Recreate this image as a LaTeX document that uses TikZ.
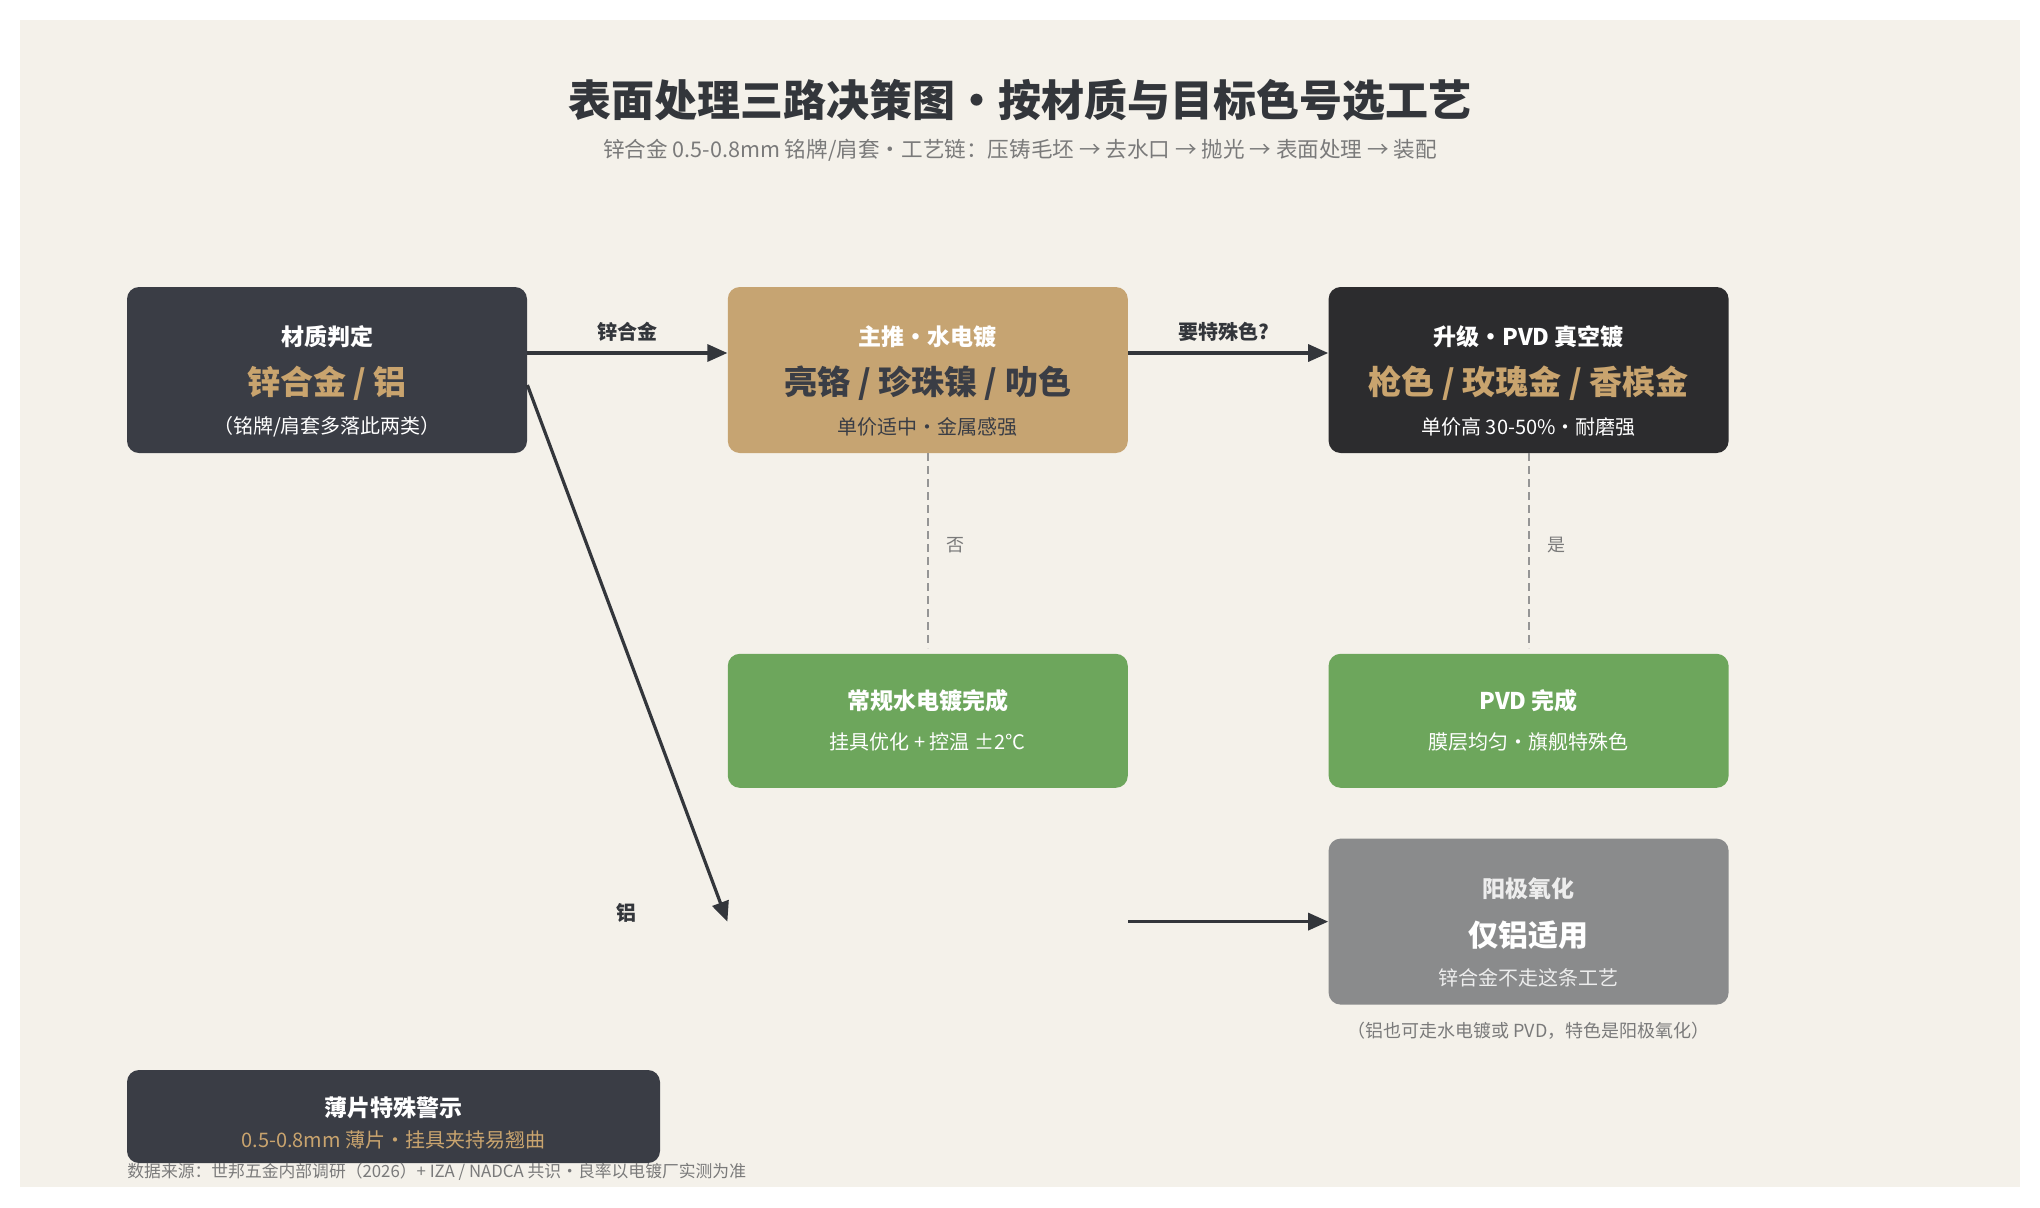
\documentclass[tikz,border=0pt]{standalone}
\usepackage{fontspec}
\setmainfont{Noto Sans CJK SC}
\usepackage{tikz}
\usetikzlibrary{arrows.meta, positioning}

\definecolor{paper}{HTML}{F4F1EA}
\definecolor{slate}{HTML}{3A3D45}
\definecolor{onyx}{HTML}{2C2C2E}
\definecolor{tan}{HTML}{C6A472}
\definecolor{gold}{HTML}{C9A46E}
\definecolor{leaf}{HTML}{6DA65C}
\definecolor{ash}{HTML}{8A8B8C}
\definecolor{ink}{HTML}{33363B}
\definecolor{mute}{HTML}{7A7A7A}
\definecolor{soft}{HTML}{EDEDED}

\begin{document}
\begin{tikzpicture}[x=0.5pt, y=-0.5pt]
    % Default looks for boxes, texts and arrows
    \tikzstyle{card}=[rounded corners=6pt, minimum width=200pt, minimum height=83pt, inner sep=0pt];
    \tikzstyle{done}=[card, fill=leaf, minimum height=67pt];
    \tikzstyle{head}=[inner sep=0pt, text=white, font=\bfseries\fontsize{11.5}{14}\selectfont];
    \tikzstyle{big}=[inner sep=0pt, font=\bfseries\fontsize{16.5}{20}\selectfont];
    \tikzstyle{sub}=[inner sep=0pt, font=\fontsize{10}{12}\selectfont];
    \tikzstyle{lbl}=[inner sep=0pt, text=ink, font=\bfseries\fontsize{10}{12}\selectfont];
    \tikzstyle{yesno}=[inner sep=0pt, text=mute, font=\fontsize{9}{11}\selectfont];
    \tikzstyle{flow}=[draw=ink, line width=1.6pt, -{Triangle[length=10pt, width=8.5pt]}];
    \tikzstyle{branch}=[draw=mute!80, line width=1pt, dash pattern=on 4pt off 2.5pt];

    \useasboundingbox (0,0) rectangle (2040,1207);
    \fill[white] (0,0) rectangle (2040,1207);
    \fill[paper] (20,20) rectangle (2020,1187);

    % Title
    \node[inner sep=0pt, text=ink, font=\bfseries\fontsize{21.5}{26}\selectfont] (title) at (1020,100)
        {表面处理三路决策图·按材质与目标色号选工艺};
    \node[inner sep=0pt, text=mute, font=\fontsize{10.8}{13}\selectfont] (subtitle) at (1020,150)
        {锌合金 0.5-0.8mm 铭牌/肩套·工艺链：压铸毛坯 → 去水口 → 抛光 → 表面处理 → 装配};

    % Define and draw the boxes
    \node[card, fill=slate] (mat) at (327,370) {};
    \node[card, fill=tan, right=100pt of mat] (plate) {};
    \node[card, fill=onyx, right=100pt of plate] (pvd) {};
    \node[done, below=100pt of plate] (platedone) {};
    \node[done, below=100pt of pvd] (pvddone) {};
    \node[card, below=25pt of platedone] (alhub) {};
    \node[card, fill=ash, below=25pt of pvddone] (anod) {};
    \node[card, fill=slate, minimum width=266.5pt, minimum height=46.5pt] (warn) at (393.5,1116.5) {};

    % Texts in the boxes
    \node[head] (mat-h) at ([yshift=16.5pt]mat.center) {材质判定};
    \node[big, text=gold] (mat-b) at ([yshift=-6.5pt]mat.center) {锌合金 / 铝};
    \node[sub, text=white] (mat-s) at ([yshift=-28.5pt]mat.center) {（铭牌/肩套多落此两类）};

    \node[head] (plate-h) at ([yshift=16.5pt]plate.center) {主推·水电镀};
    \node[big, text=slate] (plate-b) at ([yshift=-6.5pt]plate.center) {亮铬 / 珍珠镍 / 叻色};
    \node[sub, text=slate] (plate-s) at ([yshift=-28.5pt]plate.center) {单价适中·金属感强};

    \node[head] (pvd-h) at ([yshift=16.5pt]pvd.center) {升级·PVD 真空镀};
    \node[big, text=gold] (pvd-b) at ([yshift=-6.5pt]pvd.center) {枪色 / 玫瑰金 / 香槟金};
    \node[sub, text=white] (pvd-s) at ([yshift=-28.5pt]pvd.center) {单价高 30-50\%·耐磨强};

    \node[head] (platedone-h) at ([yshift=10pt]platedone.center) {常规水电镀完成};
    \node[sub, text=white] (platedone-s) at ([yshift=-10.5pt]platedone.center) {挂具优化 + 控温 ±2°C};

    \node[head] (pvddone-h) at ([yshift=10pt]pvddone.center) {PVD 完成};
    \node[sub, text=white] (pvddone-s) at ([yshift=-10.5pt]pvddone.center) {膜层均匀·旗舰特殊色};

    \node[head, text=soft] (anod-h) at ([yshift=16.5pt]anod.center) {阳极氧化};
    \node[big, text=white, font=\bfseries\fontsize{15}{18}\selectfont] (anod-b) at ([yshift=-7pt]anod.center) {仅铝适用};
    \node[sub, text=soft] (anod-s) at ([yshift=-28pt]anod.center) {锌合金不走这条工艺};
    \node[yesno] (anod-n) at ([yshift=-13pt]anod.south) {（铝也可走水电镀或 PVD，特色是阳极氧化）};

    \node[head] (warn-h) at ([yshift=4.25pt]warn.center) {薄片特殊警示};
    \node[sub, text=gold] (warn-s) at ([yshift=-11.75pt]warn.center) {0.5-0.8mm 薄片·挂具夹持易翘曲};

    % Draw the connectors
    \draw[flow] ([yshift=8.5pt]mat.east) -- ([yshift=8.5pt]plate.west)
        node[lbl, midway, above=5pt] (zinc) {锌合金};
    \draw[flow] ([yshift=8.5pt]plate.east) -- ([yshift=8.5pt]pvd.west)
        node[lbl, midway, above=5pt, xshift=-2pt] (special) {要特殊色?};
    \draw[branch] (plate.south) -- ([yshift=2.5pt]platedone.north)
        node[yesno, midway, right=9pt, yshift=3pt] (no) {否};
    \draw[branch] (pvd.south) -- ([yshift=2.5pt]pvddone.north)
        node[yesno, midway, right=9pt, yshift=3pt] (yes) {是};
    \draw[flow] ([yshift=-7.5pt]mat.east) -- (alhub.west);
    \node[lbl] (alu) at (626,913) {铝};
    \draw[flow] (alhub.east) -- (anod.west);

    % Source line
    \node[inner sep=0pt, anchor=west, text=mute, font=\fontsize{8.4}{10}\selectfont] (source) at (127,1172)
        {数据来源：世邦五金内部调研（2026）+ IZA / NADCA 共识·良率以电镀厂实测为准};
\end{tikzpicture}
\end{document}
